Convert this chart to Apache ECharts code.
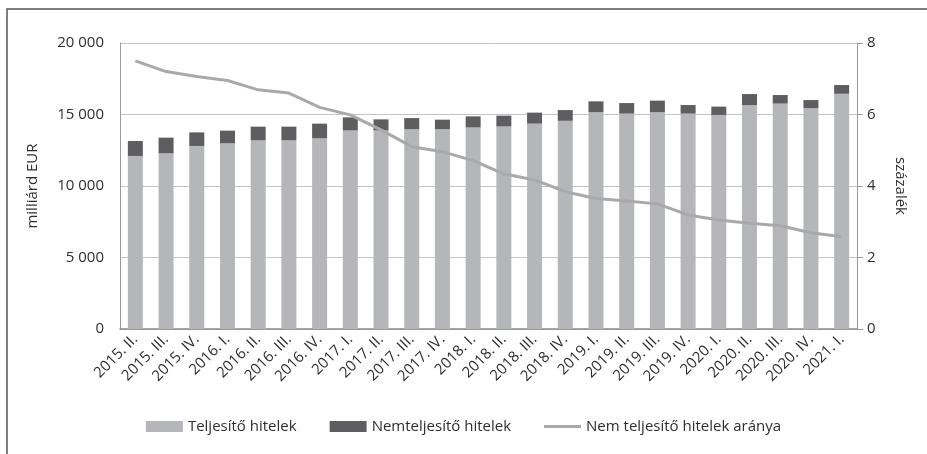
<!DOCTYPE html>
<html>
<head>
<meta charset="utf-8">
<script src="https://cdn.jsdelivr.net/npm/echarts@6/dist/echarts.min.js"></script>
<style>
html,body{margin:0;padding:0;background:#fff;}
#c{width:927px;height:454px;}
</style>
</head>
<body>
<div id="c"></div>
<script>
var categories = ["2015. II.","2015. III.","2015. IV.","2016. I.","2016. II.","2016. III.","2016. IV.","2017. I.","2017. II.","2017. III.","2017. IV.","2018. I.","2018. II.","2018. III.","2018. IV.","2019. I.","2019. II.","2019. III.","2019. IV.","2020. I.","2020. II.","2020. III.","2020. IV.","2021. I."];
var performing = [12100,12280,12800,12980,13190,13190,13330,13890,13890,13980,13980,14100,14170,14360,14560,15170,15060,15170,15060,14970,15660,15760,15450,16450];
var nonPerforming = [1050,1100,950,890,960,960,1030,910,770,770,660,770,750,770,750,750,740,800,600,580,770,600,560,610];
var nplRatio = [7.5,7.2,7.06,6.95,6.69,6.6,6.2,5.99,5.57,5.1,4.96,4.71,4.34,4.17,3.84,3.65,3.58,3.5,3.19,3.05,2.96,2.89,2.69,2.58];
var leftTicks = [0,5000,10000,15000,20000];

var FONT = 'Open Sans';
var TXT = '#2e2e2e';
var chart = echarts.init(document.getElementById('c'), null, {renderer:'canvas'});
chart.setOption({
  animation:false,
  backgroundColor:'#fff',
  textStyle:{fontFamily:FONT,color:TXT},
  graphic:[{type:'rect',shape:{x:7,y:9,width:940,height:460},style:{fill:'none',stroke:'#555',lineWidth:1.5},silent:true}],
  grid:{left:120,right:70,top:43,bottom:125},
  legend:{
    bottom:15,left:'center',itemGap:33,itemWidth:37,itemHeight:11,
    textStyle:{fontFamily:FONT,fontSize:15,color:TXT},
    data:[{name:'Teljesítő hitelek',icon:'rect'},{name:'Nemteljesítő hitelek',icon:'rect'},{name:'Nem teljesítő hitelek aránya',icon:'path://M0,0h40v3h-40z'}]
  },
  xAxis:{
    type:'category',data:categories,
    axisLine:{lineStyle:{color:'#8a8a8a',width:1.5}},
    axisTick:{show:false},
    axisLabel:{rotate:45,fontFamily:FONT,fontSize:15,color:TXT,margin:8,interval:0}
  },
  yAxis:[{
    type:'value',min:0,max:20000,interval:5000,
    name:'milliárd EUR',nameLocation:'middle',nameGap:80,nameRotate:90,
    nameTextStyle:{fontFamily:FONT,fontSize:15,color:TXT},
    axisLine:{show:true,lineStyle:{color:'#9a9a9a'}},
    axisTick:{show:false},
    splitLine:{lineStyle:{color:'#c4c4c4',width:1}},
    axisLabel:{fontFamily:FONT,fontSize:15,color:TXT,margin:16,
      formatter:function(v){return v===0?'0':String(v).replace(/(\d)(?=(\d{3})+$)/g,'$1 ');}}
  },{
    type:'value',min:0,max:8,interval:2,
    name:'százalék',nameLocation:'middle',nameGap:36,nameRotate:-90,
    nameTextStyle:{fontFamily:FONT,fontSize:15,color:TXT},
    axisLine:{show:true,lineStyle:{color:'#9a9a9a'}},
    axisTick:{show:true,length:6,lineStyle:{color:'#9a9a9a'}},
    splitLine:{show:false},
    axisLabel:{fontFamily:FONT,fontSize:15,color:TXT,margin:10}
  }],
  series:[
    {name:'Teljesítő hitelek',type:'bar',stack:'a',data:performing,barWidth:15,itemStyle:{color:'#b5b6ba'}},
    {name:'Nemteljesítő hitelek',type:'bar',stack:'a',data:nonPerforming,barWidth:15,itemStyle:{color:'#5e5e60'}},
    {name:'Nem teljesítő hitelek aránya',type:'line',yAxisIndex:1,data:nplRatio,showSymbol:false,symbol:'none',
     lineStyle:{color:'#a9a9a9',width:3},itemStyle:{color:'#a9a9a9'},z:5}
  ]
});
</script>
</body>
</html>
